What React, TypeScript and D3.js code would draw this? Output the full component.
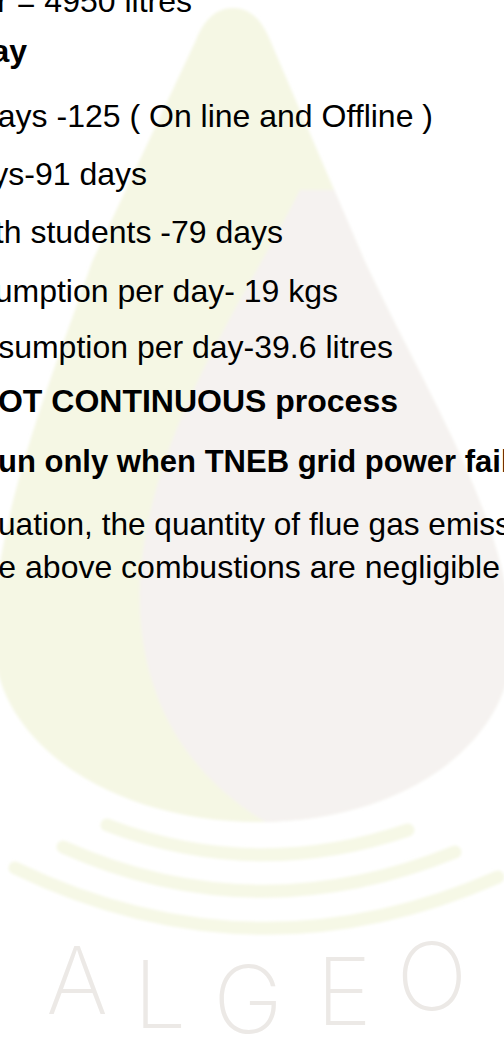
import { useEffect, useRef } from "react";
import * as d3 from "d3";

const W = 504;
const H = 1039;

// visible fragments of the slide text (clipped at both page edges)
const lineTexts = [
  "r = 4950 litres",
  "ay",
  "ays -125 ( On line and Offline )",
  "ys-91 days",
  "th students -79 days",
  "umption per day- 19 kgs",
  "sumption per day-39.6 litres",
  "OT CONTINUOUS process",
  "un only when TNEB grid power fails",
  "uation, the quantity of flue gas emission",
  "e above combustions are negligible",
];
const lineBold = [false, true, false, false, false, false, false, true, true, false, false];

// layout of each line: baseline, anchor x, anchor side, font size
const lineLayout: [number, number, "start" | "end", number][] = [
  [12, 192, "end", 32],
  [62, 27, "end", 32],
  [127, 433, "end", 32],
  [185, 147, "end", 32],
  [243, 283, "end", 32],
  [302, 338, "end", 32],
  [358, 393, "end", 32],
  [412, 398, "end", 32],
  [472, -2, "start", 31],
  [535, -2, "start", 31.6],
  [578, 500, "end", 32],
];

// logo swooshes: left end, lowest control, right end
const swooshes: [number, number, number, number, number, number][] = [
  [107, 825, 255, 882, 408, 830],
  [63, 847, 255, 933, 455, 852],
  [15, 868, 255, 984, 498, 877],
];

const logoLetters = ["A", "L", "G", "E", "O"];
const letterX = [77, 160, 248, 344, 432];
const letterBase = [1014, 1028, 1033, 1025, 1010];

export default function App() {
  const svgRef = useRef<SVGSVGElement>(null);

  useEffect(() => {
    if (!svgRef.current) return;
    const svg = d3.select(svgRef.current);
    svg.selectAll("*").remove();

    svg.append("rect").attr("width", W).attr("height", H).attr("fill", "#ffffff");

    const defs = svg.append("defs");
    defs.append("filter")
      .attr("id", "soft")
      .append("feGaussianBlur")
      .attr("stdDeviation", 1.5);

    const dropPath =
      "M 233 8 C 250 8, 262 20, 270 40 L 365 262 " +
      "C 430 400, 508 520, 512 640 C 514 745, 400 822, 258 822 " +
      "C 116 822, -6 745, -6 640 C -8 520, 55 370, 92 262 " +
      "L 196 40 C 204 20, 216 8, 233 8 Z";

    defs.append("clipPath").attr("id", "dropClip").append("path").attr("d", dropPath);

    const logo = svg.append("g").attr("filter", "url(#soft)");

    logo.append("path").attr("d", dropPath).attr("fill", "#f5f7e4");

    logo.append("path")
      .attr("clip-path", "url(#dropClip)")
      .attr("d", "M 300 190 C 245 300, 150 430, 140 580 C 135 700, 190 790, 300 840 L 600 840 L 600 190 Z")
      .attr("fill", "#f5f2f0");

    logo.selectAll(".swoosh")
      .data(swooshes)
      .enter()
      .append("path")
      .attr("class", "swoosh")
      .attr("d", s => {
        const p = d3.path();
        p.moveTo(s[0], s[1]);
        p.quadraticCurveTo(s[2], s[3], s[4], s[5]);
        return p.toString();
      })
      .attr("fill", "none")
      .attr("stroke", "#f6f8e6")
      .attr("stroke-width", 13)
      .attr("stroke-linecap", "round");

    svg.append("g")
      .selectAll("text")
      .data(logoLetters)
      .enter()
      .append("text")
      .attr("x", (_, i) => letterX[i])
      .attr("y", (_, i) => letterBase[i])
      .attr("text-anchor", "middle")
      .attr("font-family", "Inter, Roboto, 'DejaVu Sans', sans-serif")
      .attr("font-weight", 200)
      .attr("font-size", 94)
      .attr("fill", "#ece9e6")
      .text(d => d);

    svg.append("g")
      .selectAll("text")
      .data(lineTexts)
      .enter()
      .append("text")
      .attr("x", (_, i) => lineLayout[i][1])
      .attr("y", (_, i) => lineLayout[i][0])
      .attr("text-anchor", (_, i) => lineLayout[i][2])
      .attr("font-family", "'Liberation Sans', Arial, sans-serif")
      .attr("font-size", (_, i) => lineLayout[i][3])
      .attr("font-weight", (_, i) => (lineBold[i] ? 700 : 400))
      .attr("fill", "#000000")
      .text(d => d);
  }, []);

  return (
    <div style={{ position: "absolute", left: 0, top: 0, width: W, height: H, overflow: "hidden" }}>
      <svg ref={svgRef} width={W} height={H} style={{ display: "block" }}></svg>
    </div>
  );
}
